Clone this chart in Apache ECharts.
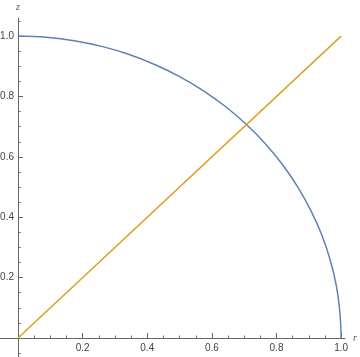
<!DOCTYPE html>
<html><head><meta charset="utf-8">
<script src="https://cdn.jsdelivr.net/npm/echarts@6/dist/echarts.min.js"></script>
<style>html,body{margin:0;padding:0;background:#fff}#c{width:360px;height:357px}</style>
</head><body><div id="c"></div>
<script>
// Values
const circleR = [0, 0.087, 0.174, 0.259, 0.342, 0.423, 0.5, 0.574, 0.643, 0.707, 0.766, 0.819, 0.866, 0.906, 0.94, 0.966, 0.985, 0.996, 1.0];
const circleZ = [1.0, 0.996, 0.985, 0.966, 0.94, 0.906, 0.866, 0.819, 0.766, 0.707, 0.643, 0.574, 0.5, 0.423, 0.342, 0.259, 0.174, 0.087, 0.0];
const lineR = [0, 1];
const lineZ = [0, 1];
const majorTicks = [0.2, 0.4, 0.6, 0.8, 1.0];
const xMinorTicks = [0.05, 0.1, 0.15, 0.25, 0.3, 0.35, 0.45, 0.5, 0.55, 0.65, 0.7, 0.75, 0.85, 0.9, 0.95];
const yMinorTicks = [-0.05, 0.05, 0.1, 0.15, 0.25, 0.3, 0.35, 0.45, 0.5, 0.55, 0.65, 0.7, 0.75, 0.85, 0.9, 0.95, 1.05];
const xName = 'r';
const yName = 'z';

const axisColor = '#666';
const labelStyle = {color: '#444', fontSize: 10, fontFamily: 'Liberation Sans, Arial, sans-serif'};
const nameStyle = {color: '#555', fontSize: 10, fontStyle: 'italic', fontFamily: 'Liberation Serif, serif'};
const fmt = v => Number(v).toFixed(1);

const chart = echarts.init(document.getElementById('c'));
chart.setOption({
  animation: false,
  grid: [
    {left: 18, right: 15, top: 18, bottom: 19, containLabel: false, outerBoundsMode: 'none'},
    {left: 0, right: 15, top: 18, bottom: 0, containLabel: false, outerBoundsMode: 'none'}
  ],
  xAxis: [
    {gridIndex: 0, type: 'value', min: 0, max: 1.012, position: 'bottom',
     axisLine: {show: false},
     axisTick: {show: true, inside: true, length: 5, customValues: majorTicks, lineStyle: {color: axisColor}},
     axisLabel: {show: true, customValues: majorTicks, margin: 5, formatter: fmt, hideOverlap: false, ...labelStyle},
     splitLine: {show: false},
     name: xName, nameLocation: 'end', nameGap: 8, nameTextStyle: nameStyle},
    {gridIndex: 1, type: 'value', min: -0.056, max: 1.012, position: 'bottom',
     axisLine: {show: true, onZero: true, lineStyle: {color: axisColor, width: 1}},
     axisTick: {show: true, inside: true, length: 2.5, customValues: xMinorTicks, lineStyle: {color: axisColor}},
     axisLabel: {show: false}, splitLine: {show: false}}
  ],
  yAxis: [
    {gridIndex: 0, type: 'value', min: 0, max: 1.06, position: 'left',
     axisLine: {show: false},
     axisTick: {show: true, inside: true, length: 5, customValues: majorTicks, lineStyle: {color: axisColor}},
     axisLabel: {show: true, customValues: majorTicks, margin: 4, formatter: fmt, hideOverlap: false, ...labelStyle},
     splitLine: {show: false},
     name: yName, nameLocation: 'end', nameGap: 6, nameTextStyle: nameStyle},
    {gridIndex: 1, type: 'value', min: -0.063, max: 1.06, position: 'left',
     axisLine: {show: true, onZero: true, lineStyle: {color: axisColor, width: 1}},
     axisTick: {show: true, inside: true, length: 2.5, customValues: yMinorTicks, lineStyle: {color: axisColor}},
     axisLabel: {show: false}, splitLine: {show: false}}
  ],
  series: [
    {type: 'line', xAxisIndex: 0, yAxisIndex: 0, data: circleR.map((r, i) => [r, circleZ[i]]), showSymbol: false, smooth: 0.4,
     lineStyle: {color: '#5E81B5', width: 1.5}},
    {type: 'line', xAxisIndex: 0, yAxisIndex: 0, data: lineR.map((r, i) => [r, lineZ[i]]), showSymbol: false,
     lineStyle: {color: '#E19C24', width: 1.5}}
  ]
});
</script></body></html>
